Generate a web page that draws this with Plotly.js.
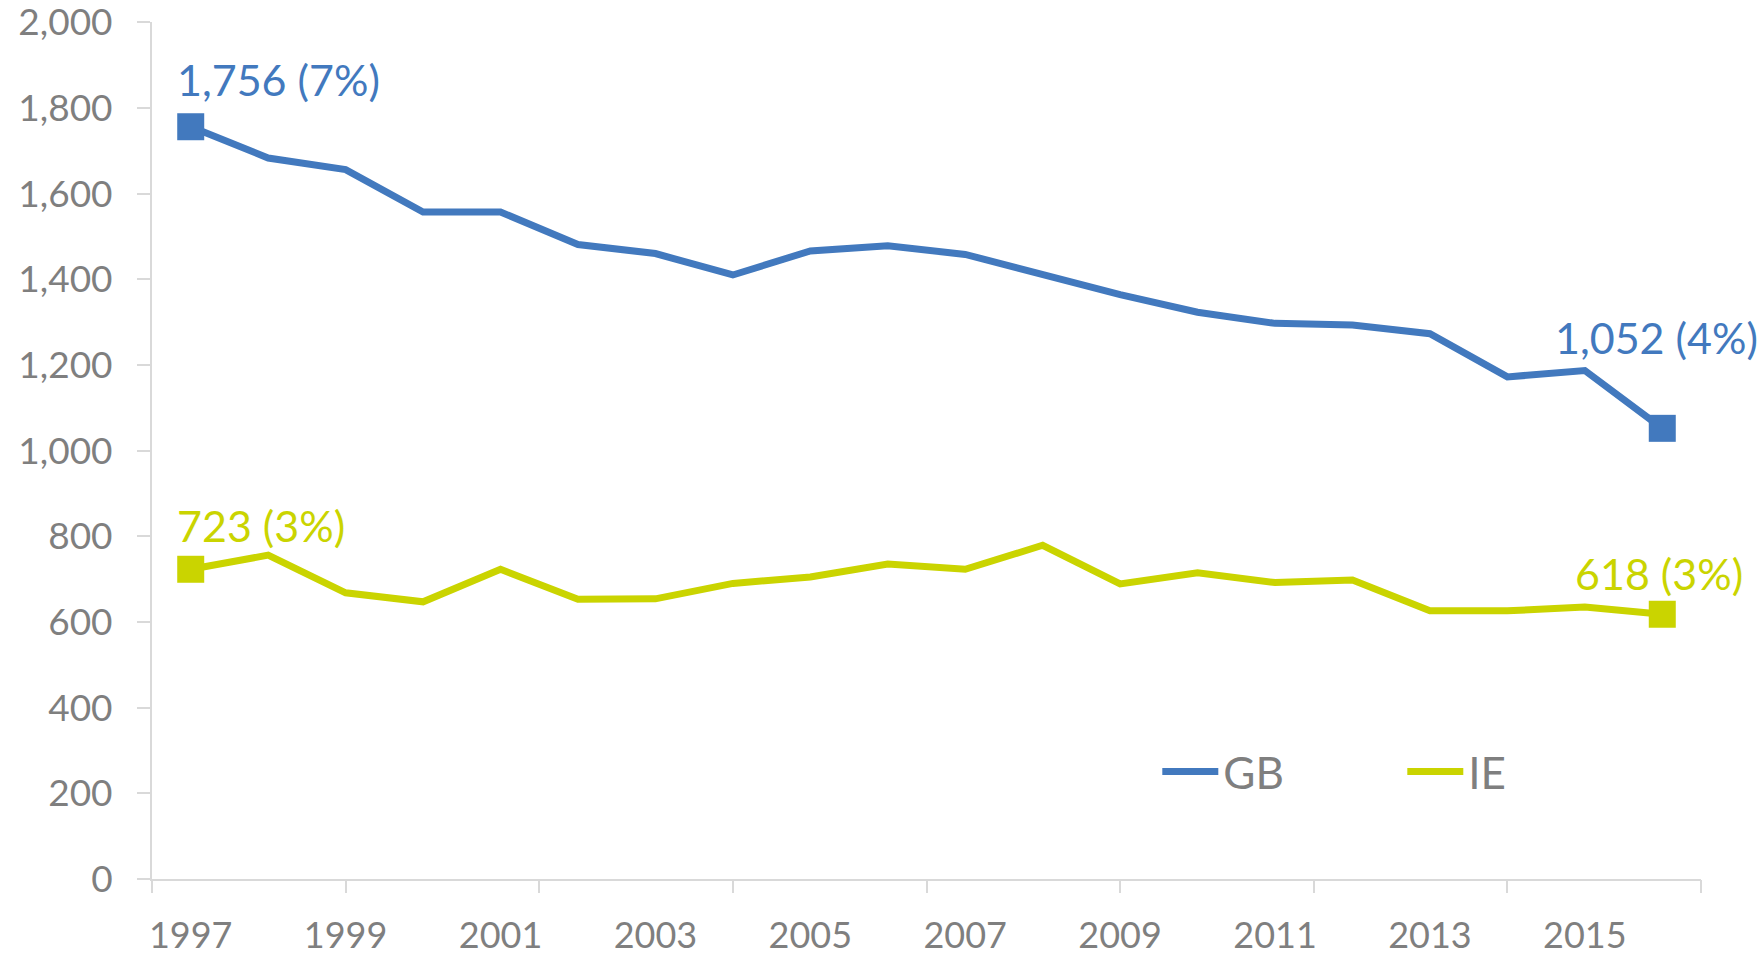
<!DOCTYPE html>
<html>
<head>
<meta charset="utf-8">
<script src="https://cdn.plot.ly/plotly-3.0.1.min.js"></script>
<style>
  html, body { margin: 0; padding: 0; background: #ffffff; }
  #chart { width: 1762px; height: 953px; }
</style>
</head>
<body>
<div id="chart"></div>
<script>
// ---- data ----
const years = [1997, 1998, 1999, 2000, 2001, 2002, 2003, 2004, 2005, 2006,
               2007, 2008, 2009, 2010, 2011, 2012, 2013, 2014, 2015, 2016];
const gbValues = [1756, 1683, 1656, 1557, 1557, 1481, 1460, 1410, 1466, 1478,
                  1458, 1412, 1364, 1323, 1297, 1293, 1273, 1172, 1187, 1052];
const ieValues = [723, 756, 668, 647, 723, 653, 654, 690, 705, 735,
                  723, 779, 689, 715, 692, 698, 626, 626, 635, 618];
const gbShares = ["7%", "4%"];   // first, last
const ieShares = ["3%", "3%"];   // first, last
const xLabelYears = [1997, 1999, 2001, 2003, 2005, 2007, 2009, 2011, 2013, 2015];
const xTickMarks = [1996.5, 1999, 2001.5, 2004, 2006.5, 2009, 2011.5, 2014, 2016.5];
const yTicks = [0, 200, 400, 600, 800, 1000, 1200, 1400, 1600, 1800, 2000];

// ---- styles ----
const GB_COLOR = '#4279BE';
const IE_COLOR = '#CAD400';
const AXIS_COLOR = '#D9D9D9';
const TEXT_COLOR = '#7F7F7F';
const FONT = 'Lato, "Open Sans", sans-serif';

const endSizes = years.map((_, i) => (i === 0 || i === years.length - 1) ? 27 : 0);

const fmt = v => v.toLocaleString('en-US');

const traces = [
  {
    x: years, y: gbValues, name: 'GB', type: 'scatter', mode: 'lines+markers',
    xaxis: 'x', yaxis: 'y',
    line: { color: GB_COLOR, width: 7 },
    marker: { symbol: 'square', size: endSizes, color: GB_COLOR, opacity: 1, line: { width: 0 } },
    hoverinfo: 'x+y'
  },
  {
    x: years, y: ieValues, name: 'IE', type: 'scatter', mode: 'lines+markers',
    xaxis: 'x2', yaxis: 'y',
    line: { color: IE_COLOR, width: 7 },
    marker: { symbol: 'square', size: endSizes, color: IE_COLOR, opacity: 1, line: { width: 0 } },
    hoverinfo: 'x+y'
  }
];

const last = years.length - 1;
const annFont = (c) => ({ family: FONT, size: 43, color: c });
const annotations = [
  { x: years[0], y: gbValues[0], text: fmt(gbValues[0]) + ' (' + gbShares[0] + ')',
    showarrow: false, xanchor: 'left', yanchor: 'middle', xshift: -16, yshift: 47, font: annFont(GB_COLOR) },
  { x: years[last], y: gbValues[last], text: fmt(gbValues[last]) + ' (' + gbShares[1] + ')',
    showarrow: false, xanchor: 'center', yanchor: 'middle', xshift: -6, yshift: 91, font: annFont(GB_COLOR) },
  { x: years[0], y: ieValues[0], text: fmt(ieValues[0]) + ' (' + ieShares[0] + ')',
    showarrow: false, xanchor: 'left', yanchor: 'middle', xshift: -16, yshift: 44, font: annFont(IE_COLOR) },
  { x: years[last], y: ieValues[last], text: fmt(ieValues[last]) + ' (' + ieShares[1] + ')',
    showarrow: false, xanchor: 'center', yanchor: 'middle', xshift: -3, yshift: 41, font: annFont(IE_COLOR) }
];

const layout = {
  width: 1762, height: 953,
  margin: { l: 152, r: 61, t: 22, b: 74, pad: 0 },
  paper_bgcolor: '#ffffff', plot_bgcolor: '#ffffff',
  font: { family: FONT, color: TEXT_COLOR, size: 36 },
  showlegend: true,
  legend: {
    orientation: 'h', x: 0.649, y: 0.125, xanchor: 'left', yanchor: 'middle',
    bgcolor: 'rgba(0,0,0,0)', font: { family: FONT, size: 44, color: TEXT_COLOR },
    itemwidth: 56, entrywidth: 174, entrywidthmode: 'pixels', itemclick: false
  },
  xaxis: {
    range: [1996.5, 2016.5], tickmode: 'array', tickvals: xLabelYears,
    ticktext: xLabelYears.map(String), ticks: '', showgrid: false, zeroline: false,
    showline: true, linecolor: AXIS_COLOR, linewidth: 2, ticklabeloverflow: 'allow',
    tickfont: { family: FONT, size: 36, color: TEXT_COLOR }, ticklabelstandoff: 24,
    fixedrange: true
  },
  xaxis2: {
    overlaying: 'x', anchor: 'y', side: 'bottom', range: [1996.5, 2016.5],
    tickmode: 'array', tickvals: xTickMarks, ticks: 'outside', ticklen: 13,
    tickcolor: AXIS_COLOR, tickwidth: 2, showticklabels: false, showgrid: false,
    zeroline: false, showline: false, fixedrange: true
  },
  yaxis: {
    range: [0, 2000.5], tickmode: 'array', tickvals: yTicks, tickformat: ',d',
    ticks: 'outside', ticklen: 13, tickcolor: AXIS_COLOR, tickwidth: 2,
    showgrid: false, zeroline: false, showline: true, linecolor: AXIS_COLOR, linewidth: 2,
    ticklabeloverflow: 'allow',
    tickfont: { family: FONT, size: 37, color: TEXT_COLOR }, ticklabelstandoff: 17,
    fixedrange: true
  },
  annotations: annotations
};

Plotly.newPlot('chart', traces, layout, { displayModeBar: false });
</script>
</body>
</html>
